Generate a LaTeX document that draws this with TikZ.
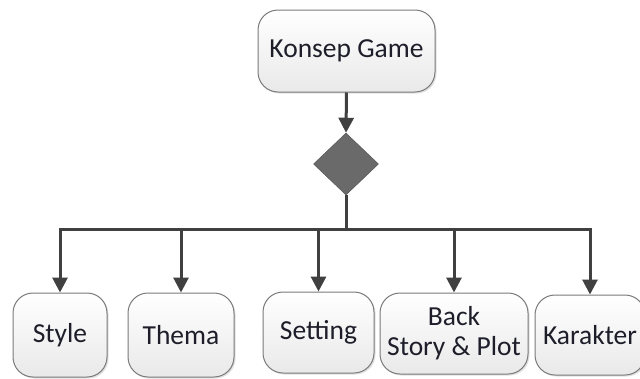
\documentclass[tikz,border=0pt]{standalone}
\usepackage{fontspec}
\setmainfont{Carlito}
\usetikzlibrary{shapes.geometric,arrows.meta,shadows}
\definecolor{linec}{HTML}{404040}
\definecolor{boxline}{HTML}{7A7A7A}
\definecolor{boxbot}{HTML}{E9E9E9}
\definecolor{diam}{HTML}{6A6A6A}
\definecolor{txt}{HTML}{1E1E2A}
\tikzset{
  box/.style={draw=boxline, line width=1pt, rounded corners=20pt,
    top color=white, bottom color=boxbot, inner sep=0pt,
    text=txt, align=center,
    font=\fontsize{27.5}{30}\selectfont,
    drop shadow={shadow xshift=1.5pt, shadow yshift=-1.5pt, fill=black, opacity=0.12}},
  conn/.style={draw=linec, line width=3pt, -{Triangle[width=15pt,length=15pt]}},
  plainconn/.style={draw=linec, line width=3pt},
}
\begin{document}
\begin{tikzpicture}[x=1pt,y=-1pt]
\useasboundingbox (0,0) rectangle (640,378);
\fill[white] (0,0) rectangle (640,378);
\node[box, minimum width=177pt, minimum height=82pt] (konsep) at (346.5,51) {Konsep Game};
\node[diamond, fill=diam, draw=diam!80!black, line width=0.5pt, inner sep=0pt, minimum width=65pt, minimum height=62pt] (dec) at (346,164) {};
\coordinate (j) at (346,229);
\node[box, minimum width=94pt, minimum height=84pt] (style) at (60,335) {Style};
\node[box, minimum width=106pt, minimum height=84pt] (thema) at (181,335) {Thema};
\node[box, minimum width=111pt, minimum height=81pt] (setting) at (318.5,332.5) {Setting};
\node[box, minimum width=148pt, minimum height=81pt] (back) at (454,333.5) {Back\\Story \& Plot};
\node[box, minimum width=110pt, minimum height=80pt] (karakter) at (590,335) {Karakter};
\draw[conn] (konsep.south) -- (dec.north);
\draw[plainconn] (dec.south) -- (j);
\draw[conn] (j) -| (style.north);
\draw[conn] (j) -| (thema.north);
\draw[conn] (j) -| (setting.north);
\draw[conn] (j) -| (back.north);
\draw[conn] (j) -| (karakter.north);
\end{tikzpicture}
\end{document}
